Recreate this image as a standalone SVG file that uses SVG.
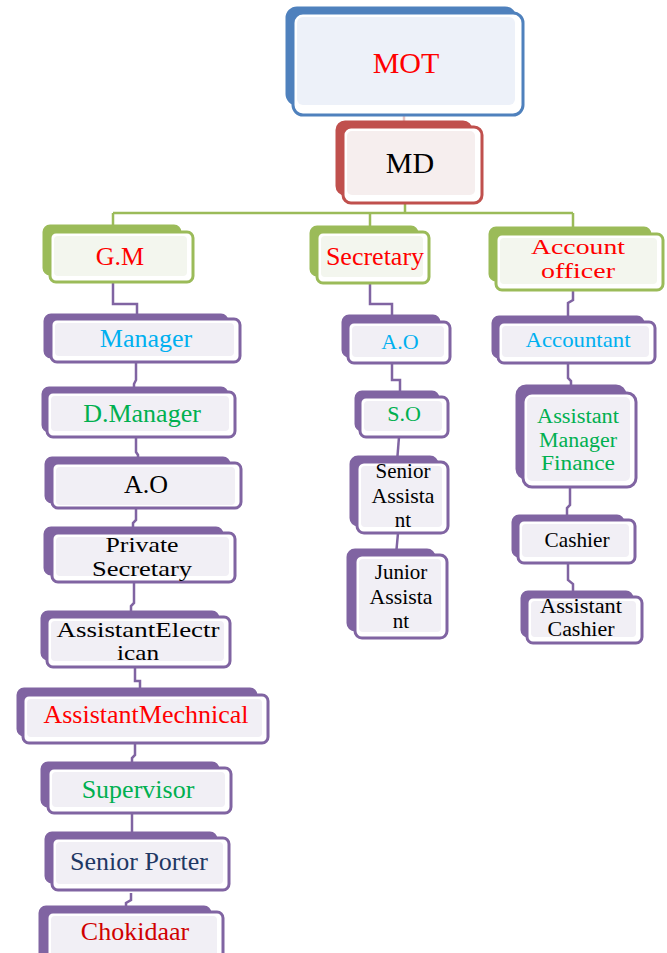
<svg xmlns="http://www.w3.org/2000/svg" width="667" height="953" viewBox="0 0 667 953" font-family="'Liberation Serif', Tinos, 'Times New Roman', 'DejaVu Serif', serif">
<style>
.bk{stroke-width:3;stroke-linejoin:round}
.fr{fill:#fff;stroke-width:3}
.blue .bk{fill:#4F81BD;stroke:#4F81BD}.blue .fr{stroke:#4F81BD}.blue .in{fill:#EDF1F9}
.red .bk{fill:#C0504D;stroke:#C0504D}.red .fr{stroke:#C0504D}.red .in{fill:#F6EEEE}
.green .bk{fill:#9BBB59;stroke:#9BBB59}.green .fr{stroke:#9BBB59}.green .in{fill:#F3F6EE}
.purple .bk{fill:#8064A2;stroke:#8064A2}.purple .fr{stroke:#8064A2}.purple .in{fill:#F1EFF5}
text{font-family:'Liberation Serif', Tinos, 'Times New Roman', 'DejaVu Serif', serif;text-anchor:middle}
.t26{font-size:26px}.t22{font-size:22px}.t21{font-size:21px}.t20{font-size:20px}.t30{font-size:30px}
.cr{fill:#FF0000}.cb{fill:#00B0F0}.cg{fill:#00B050}.ck{fill:#000}.cn{fill:#1F3864}.cd{fill:#D00000}
.conn path{fill:none;stroke-width:2.5}
.gl{stroke:#9BBB59}.pl{stroke:#8064A2}
</style>
<rect width="667" height="953" fill="#fff"/>
<g class="conn">
<path d="M404 110 V127" stroke="#E6C4C3" stroke-width="2"/>
<path class="gl" d="M405 203 V213 M113 213 H573 M113 213 V226 M370 213 V228 M573 213 V229"/>
<path class="pl" d="M113 282 V304 H137 V318"/>
<path class="pl" d="M136 362 V380 L134 384 V392"/>
<path class="pl" d="M136 437 V452 L138 455 V463"/>
<path class="pl" d="M136 508 V520 L133 523 V533"/>
<path class="pl" d="M134 582 V603 L131 606 V617"/>
<path class="pl" d="M135 667 V681 H140 V695"/>
<path class="pl" d="M135 743 V755 L132 758 V768"/>
<path class="pl" d="M132 813 V838"/>
<path class="pl" d="M131 893 V900 L126 903 V912"/>
<path class="pl" d="M370 283 V304 H392 V322"/>
<path class="pl" d="M392 363 V380 H400 V397"/>
<path class="pl" d="M399 437 L397 462"/>
<path class="pl" d="M398 533 L396 555"/>
<path class="pl" d="M573 290 V300 L568 303 V322"/>
<path class="pl" d="M568 363 V378 L571 381 V393"/>
<path class="pl" d="M570 487 V505 L567 508 V520"/>
<path class="pl" d="M568 563 V580 L573 584 V597"/>
</g>
<g id="mot" class="blue">
<rect class="bk" x="287" y="8" width="228" height="96" rx="10"/>
<rect class="fr" x="293" y="13" width="230" height="102" rx="10"/>
<rect class="in" x="297" y="17" width="218" height="88" rx="6"/>
<text class="t30 cr" x="406" y="73">MOT</text>
</g>
<g id="md" class="red">
<rect class="bk" x="337" y="122" width="134" height="72" rx="8"/>
<rect class="fr" x="343" y="127" width="139" height="76" rx="8"/>
<rect class="in" x="347" y="131" width="128" height="64" rx="5"/>
<text class="t30 ck" x="410" y="173">MD</text>
</g>
<g id="gm" class="green">
<rect class="bk" x="44" y="226" width="136" height="48" rx="6"/>
<rect class="fr" x="50" y="232" width="143" height="50" rx="6"/>
<rect class="in" x="54" y="236" width="133" height="40" rx="4"/>
<text class="t26 cr" x="120" y="265">G.M</text>
</g>
<g id="secretary" class="green">
<rect class="bk" x="311" y="227" width="106" height="48" rx="6"/>
<rect class="fr" x="317" y="232" width="112" height="51" rx="6"/>
<rect class="in" x="321" y="236" width="102" height="41" rx="4"/>
<text class="t26 cr" x="375" y="265">Secretary</text>
</g>
<g id="account-officer" class="green">
<rect class="bk" x="490" y="228" width="160" height="52" rx="6"/>
<rect class="fr" x="496" y="234" width="167" height="56" rx="6"/>
<rect class="in" x="500" y="238" width="157" height="46" rx="4"/>
<text class="t22 cr" x="578" y="254" textLength="94" lengthAdjust="spacingAndGlyphs">Account</text>
<text class="t22 cr" x="578" y="278" textLength="74" lengthAdjust="spacingAndGlyphs">officer</text>
</g>
<g id="manager" class="purple">
<rect class="bk" x="45" y="315" width="182" height="42" rx="6"/>
<rect class="fr" x="51" y="319" width="189" height="43" rx="6"/>
<rect class="in" x="55" y="323" width="179" height="33" rx="4"/>
<text class="t26 cb" x="146" y="347">Manager</text>
</g>
<g id="d-manager" class="purple">
<rect class="bk" x="43" y="388" width="184" height="43" rx="6"/>
<rect class="fr" x="47" y="392" width="188" height="45" rx="6"/>
<rect class="in" x="51" y="396" width="178" height="35" rx="4"/>
<text class="t26 cg" x="142" y="422">D.Manager</text>
</g>
<g id="ao-gm" class="purple">
<rect class="bk" x="46" y="458" width="183" height="44" rx="6"/>
<rect class="fr" x="52" y="463" width="189" height="45" rx="6"/>
<rect class="in" x="56" y="467" width="179" height="38" rx="4"/>
<text class="t26 ck" x="146" y="493">A.O</text>
</g>
<g id="private-secretary" class="purple">
<rect class="bk" x="45" y="528" width="177" height="46" rx="6"/>
<rect class="fr" x="52" y="533" width="183" height="49" rx="6"/>
<rect class="in" x="56" y="537" width="173" height="39" rx="4"/>
<text class="t21 ck" x="142" y="552" textLength="73" lengthAdjust="spacingAndGlyphs">Private</text>
<text class="t21 ck" x="142" y="576" textLength="100" lengthAdjust="spacingAndGlyphs">Secretary</text>
</g>
<g id="assistant-electrican" class="purple">
<rect class="bk" x="42" y="612" width="176" height="47" rx="6"/>
<rect class="fr" x="47" y="617" width="183" height="50" rx="6"/>
<rect class="in" x="51" y="621" width="173" height="40" rx="4"/>
<text class="t21 ck" x="138" y="637" textLength="163" lengthAdjust="spacingAndGlyphs">AssistantElectr</text>
<text class="t21 ck" x="138" y="660" textLength="42" lengthAdjust="spacingAndGlyphs">ican</text>
</g>
<g id="assistant-mechnical" class="purple">
<rect class="bk" x="18" y="689" width="238" height="46" rx="6"/>
<rect class="fr" x="23" y="695" width="245" height="48" rx="6"/>
<rect class="in" x="27" y="699" width="235" height="38" rx="4"/>
<text class="t26 cr" x="146" y="723">AssistantMechnical</text>
</g>
<g id="supervisor" class="purple">
<rect class="bk" x="42" y="763" width="176" height="43" rx="6"/>
<rect class="fr" x="48" y="768" width="183" height="45" rx="6"/>
<rect class="in" x="52" y="772" width="173" height="35" rx="4"/>
<text class="t26 cg" x="138" y="798">Supervisor</text>
</g>
<g id="senior-porter" class="purple">
<rect class="bk" x="46" y="833" width="170" height="49" rx="6"/>
<rect class="fr" x="52" y="838" width="177" height="52" rx="6"/>
<rect class="in" x="56" y="842" width="167" height="42" rx="4"/>
<text class="t26 cn" x="139" y="870">Senior Porter</text>
</g>
<g id="chokidaar" class="purple">
<rect class="bk" x="40" y="907" width="170" height="60" rx="6"/>
<rect class="fr" x="47" y="912" width="176" height="60" rx="6"/>
<rect class="in" x="51" y="916" width="166" height="50" rx="4"/>
<text class="t26 cd" x="135" y="940">Chokidaar</text>
</g>
<g id="ao-sec" class="purple">
<rect class="bk" x="343" y="316" width="96" height="40" rx="6"/>
<rect class="fr" x="348" y="322" width="102" height="41" rx="6"/>
<rect class="in" x="352" y="326" width="92" height="31" rx="4"/>
<text class="t22 cb" x="400" y="349">A.O</text>
</g>
<g id="so" class="purple">
<rect class="bk" x="356" y="392" width="82" height="38" rx="6"/>
<rect class="fr" x="360" y="397" width="88" height="40" rx="6"/>
<rect class="in" x="364" y="401" width="78" height="30" rx="4"/>
<text class="t22 cg" x="404" y="421">S.O</text>
</g>
<g id="senior-assistant" class="purple">
<rect class="bk" x="351" y="457" width="86" height="68" rx="7"/>
<rect class="fr" x="357" y="462" width="91" height="71" rx="7"/>
<rect class="in" x="361" y="466" width="81" height="61" rx="4"/>
<text class="t21 ck" x="403" y="478">Senior</text>
<text class="t21 ck" x="403" y="503" textLength="63" lengthAdjust="spacingAndGlyphs">Assista</text>
<text class="t21 ck" x="403" y="527">nt</text>
</g>
<g id="junior-assistant" class="purple">
<rect class="bk" x="348" y="550" width="86" height="80" rx="7"/>
<rect class="fr" x="355" y="555" width="92" height="83" rx="7"/>
<rect class="in" x="359" y="559" width="82" height="73" rx="4"/>
<text class="t21 ck" x="401" y="579">Junior</text>
<text class="t21 ck" x="401" y="604" textLength="63" lengthAdjust="spacingAndGlyphs">Assista</text>
<text class="t21 ck" x="401" y="628">nt</text>
</g>
<g id="accountant" class="purple">
<rect class="bk" x="493" y="317" width="150" height="40" rx="6"/>
<rect class="fr" x="498" y="322" width="157" height="41" rx="6"/>
<rect class="in" x="502" y="326" width="147" height="31" rx="4"/>
<text class="t22 cb" x="578" y="347" textLength="105" lengthAdjust="spacingAndGlyphs">Accountant</text>
</g>
<g id="assistant-manager-finance" class="purple">
<rect class="bk" x="517" y="386" width="108" height="92" rx="9"/>
<rect class="fr" x="523" y="393" width="113" height="94" rx="9"/>
<rect class="in" x="527" y="397" width="103" height="84" rx="5"/>
<text class="t20 cg" x="578" y="423" textLength="82" lengthAdjust="spacingAndGlyphs">Assistant</text>
<text class="t20 cg" x="578" y="447" textLength="78" lengthAdjust="spacingAndGlyphs">Manager</text>
<text class="t20 cg" x="578" y="470" textLength="74" lengthAdjust="spacingAndGlyphs">Finance</text>
</g>
<g id="cashier" class="purple">
<rect class="bk" x="513" y="516" width="110" height="40" rx="6"/>
<rect class="fr" x="518" y="520" width="117" height="43" rx="6"/>
<rect class="in" x="522" y="524" width="107" height="33" rx="4"/>
<text class="t22 ck" x="577" y="547" textLength="65" lengthAdjust="spacingAndGlyphs">Cashier</text>
</g>
<g id="assistant-cashier" class="purple">
<rect class="bk" x="522" y="592" width="110" height="44" rx="6"/>
<rect class="fr" x="527" y="597" width="115" height="46" rx="6"/>
<rect class="in" x="531" y="601" width="105" height="36" rx="4"/>
<text class="t20 ck" x="581" y="613" textLength="82" lengthAdjust="spacingAndGlyphs">Assistant</text>
<text class="t20 ck" x="581" y="636" textLength="67" lengthAdjust="spacingAndGlyphs">Cashier</text>
</g>
</svg>
